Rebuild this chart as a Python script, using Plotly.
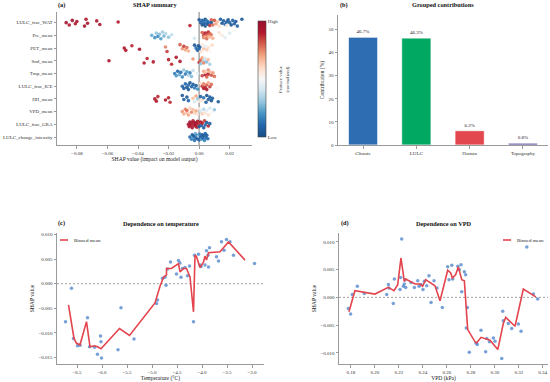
import plotly.graph_objects as go

FONT = "Liberation Serif"

# ---------------- Panel (a): SHAP summary ----------------
features = ["LULC_frac_WAT", "Pre_mean", "PET_mean", "Snd_mean", "Tmp_mean",
            "LULC_frac_ICE", "HII_mean", "VPD_mean", "LULC_frac_GRA", "LULC_change_intensity"]

wat_shap = [-0.087, -0.085, -0.083, -0.081, -0.080, -0.075, -0.074, -0.073, -0.067, -0.065, -0.053, -0.006,
            0.000, 0.001, 0.002, 0.002, 0.003, 0.003, 0.004, 0.004, 0.005, 0.005,
            0.006, 0.006, 0.007, 0.008, 0.008, 0.009, 0.010, 0.011, 0.012, 0.013,
            0.014, 0.015, 0.016, 0.017, 0.018, 0.018, 0.019, 0.020, 0.021, 0.022,
            0.023, 0.024, 0.025, 0.028]
wat_feat = [0.95, 0.92, 0.97, 0.90, 0.93, 0.96, 0.91, 0.94, 0.92, 0.95, 0.90, 0.88,
            0.05, 0.08, 0.03, 0.10, 0.06, 0.12, 0.04, 0.02, 0.07, 0.15,
            0.05, 0.09, 0.85, 0.80, 0.03, 0.78, 0.82, 0.70, 0.65, 0.60,
            0.06, 0.04, 0.08, 0.10, 0.05, 0.55, 0.03, 0.07, 0.04, 0.09,
            0.06, 0.05, 0.08, 0.04]

pre_shap = [-0.031, -0.029, -0.028, -0.027, -0.026, -0.025, -0.024, -0.023, -0.022, -0.020, -0.018, -0.003,
            0.002, 0.003, 0.003, 0.004, 0.004, 0.005, 0.005, 0.006, 0.006, 0.007, 0.007, 0.008, 0.009,
            0.013, 0.015, 0.017, 0.020]
pre_feat = [0.25, 0.20, 0.30, 0.18, 0.28, 0.22, 0.32, 0.26, 0.35, 0.30, 0.38, 0.40,
            0.80, 0.85, 0.75, 0.90, 0.70, 0.82, 0.78, 0.88, 0.72, 0.80, 0.65, 0.76, 0.68,
            0.58, 0.55, 0.45, 0.42]

pet_shap = [-0.049, -0.048, -0.044, -0.039, -0.022, -0.021, -0.0125, -0.011, -0.010, -0.009, -0.008, -0.007,
            -0.003, -0.002, -0.001, -0.0005, 0.000, 0.0005,
            0.001, 0.002, 0.003, 0.004, 0.005, 0.006, 0.007, 0.0085]
pet_feat = [0.92, 0.90, 0.88, 0.93, 0.75, 0.85, 0.80, 0.72, 0.85, 0.70, 0.78, 0.68,
            0.05, 0.10, 0.08, 0.03, 0.12, 0.06,
            0.60, 0.55, 0.65, 0.45, 0.62, 0.58, 0.50, 0.60]

snd_shap = [-0.059, -0.036, -0.034, -0.030, -0.020, -0.018, -0.015, -0.0125, -0.004,
            0.000, 0.001, 0.001, 0.002, 0.003, 0.003, 0.004, 0.005, 0.006, 0.007]
snd_feat = [0.92, 0.90, 0.88, 0.91, 0.89, 0.87, 0.90, 0.93, 0.72,
            0.85, 0.80, 0.30, 0.70, 0.35, 0.75, 0.40, 0.28, 0.65, 0.33]

tmp_shap = [-0.016, -0.015, -0.014, -0.013, -0.012, -0.011, -0.010, -0.009, -0.008, -0.007, -0.006, -0.005, -0.004, -0.001,
            0.002, 0.003, 0.004, 0.004, 0.005, 0.006, 0.006, 0.007, 0.008, 0.009, 0.010]
tmp_feat = [0.15, 0.20, 0.10, 0.25, 0.12, 0.18, 0.30, 0.14, 0.22, 0.35, 0.16, 0.28, 0.38, 0.45,
            0.85, 0.70, 0.90, 0.65, 0.80, 0.75, 0.88, 0.68, 0.82, 0.72, 0.78]

ice_shap = [-0.011, -0.010, -0.009, -0.008, -0.007, -0.007, -0.006, -0.005, -0.004, -0.003, -0.002, -0.001,
            0.001, 0.002, 0.003, 0.003, 0.004, 0.005, 0.005, 0.006, 0.007, 0.008,
            0.012]
ice_feat = [0.08, 0.05, 0.10, 0.04, 0.12, 0.06, 0.03, 0.09, 0.07, 0.15, 0.05, 0.20,
            0.60, 0.85, 0.90, 0.75, 0.88, 0.80, 0.92, 0.70, 0.85, 0.78,
            0.50]

hii_shap = [-0.029, -0.028, -0.027, -0.022, -0.020, -0.019, -0.011, -0.010, -0.008, -0.007,
            -0.004, -0.003, -0.002, -0.001, 0.000, 0.001, 0.002, 0.003,
            0.0045, 0.005, 0.006, 0.007, 0.008, 0.0087, 0.0125]
hii_feat = [0.92, 0.90, 0.88, 0.91, 0.89, 0.87, 0.05, 0.08, 0.04, 0.10,
            0.65, 0.40, 0.70, 0.30, 0.55, 0.08, 0.60, 0.12,
            0.05, 0.03, 0.08, 0.06, 0.04, 0.07, 0.05]

vpd_shap = [-0.011, -0.010, -0.009, -0.008, -0.008, -0.007, -0.006, -0.005, -0.004, -0.003, -0.002, -0.001,
            0.000, 0.001, 0.002, 0.003, 0.004, 0.005, 0.006, 0.007, 0.008,
            0.010]
vpd_feat = [0.72, 0.68, 0.75, 0.65, 0.78, 0.70, 0.62, 0.74, 0.66, 0.60, 0.70, 0.58,
            0.55, 0.40, 0.62, 0.35, 0.58, 0.45, 0.60, 0.42, 0.50,
            0.30]

gra_shap = [-0.007, -0.0065, -0.006, -0.0055, -0.005, -0.0045, -0.004, -0.0035, -0.003, -0.0025, -0.002, -0.0015, -0.001, -0.0006,
            0.000, 0.001, 0.0015, 0.002, 0.003, 0.0035, 0.004, 0.005, 0.006, 0.007]
gra_feat = [0.95, 0.92, 0.97, 0.90, 0.94, 0.96, 0.91, 0.93, 0.95, 0.92, 0.97, 0.90, 0.94, 0.88,
            0.05, 0.92, 0.08, 0.90, 0.04, 0.85, 0.10, 0.06, 0.88, 0.07]

chg_shap = [-0.006, -0.005, -0.0045, -0.004, -0.0035, -0.003, -0.0025, -0.002, -0.0015, -0.001, -0.0005, 0.000,
            0.0005, 0.001, 0.0015, 0.002, 0.0025, 0.003, 0.0035, 0.004, 0.0045, 0.005, 0.0057]
chg_feat = [0.10, 0.15, 0.08, 0.20, 0.05, 0.12, 0.25, 0.06, 0.18, 0.04, 0.30, 0.08,
            0.14, 0.03, 0.22, 0.07, 0.10, 0.05, 0.16, 0.09, 0.12, 0.06, 0.11]

shap_rows = [wat_shap, pre_shap, pet_shap, snd_shap, tmp_shap, ice_shap, hii_shap, vpd_shap, gra_shap, chg_shap]
feat_rows = [wat_feat, pre_feat, pet_feat, snd_feat, tmp_feat, ice_feat, hii_feat, vpd_feat, gra_feat, chg_feat]

# ---------------- Panel (b): grouped contributions ----------------
groups = ["Climate", "LULC", "Human", "Topography"]
group_pct = [46.7, 46.3, 6.2, 0.8]
group_colors = ["#2f6db3", "#00a862", "#e2474f", "#5b4fa3"]

# ---------------- Panel (c): dependence on temperature ----------------
temp_x = [-6.73, -6.61, -6.57, -6.49, -6.44, -6.29, -6.25, -6.15, -6.09, -6.03, -6.02, -6.01,
          -5.68, -5.62, -5.36, -4.91, -4.89, -4.79, -4.74, -4.72, -4.69, -4.63, -4.51, -4.47,
          -4.44, -4.42, -4.39, -4.34, -4.29, -4.25, -4.17, -4.15, -4.07, -4.04, -4.02, -3.94,
          -3.91, -3.88, -3.87, -3.85, -3.71, -3.67, -3.61, -3.56, -3.51, -3.44, -3.37, -2.95]
temp_y = [-0.0077, -0.0009, -0.0111, -0.0126, -0.0125, -0.0069, -0.0128, -0.0129, -0.0143, -0.0106, -0.0118, -0.0151,
          -0.0134, -0.0049, -0.0112, -0.0040, -0.0033, 0.0011, 0.0013, -0.0003, 0.0030, 0.0044, 0.0020, 0.0047,
          0.0042, 0.0013, 0.0031, 0.0033, 0.0016, 0.0036, -0.0077, 0.0058, 0.0060, 0.0038, 0.0035, 0.0038,
          0.0067, 0.0058, 0.0034, 0.0073, 0.0055, 0.0046, 0.0085, 0.0068, 0.0090, 0.0085, 0.0058, 0.0041]
temp_bin_x = [-6.67, -6.56, -6.51, -6.44, -6.31, -6.24, -6.15, -6.09, -6.02, -5.65, -5.45, -4.94,
              -4.84, -4.81, -4.77, -4.71, -4.71, -4.61, -4.52, -4.47, -4.44, -4.37, -4.31, -4.24,
              -4.17, -4.14, -4.11, -4.04, -3.97, -3.94, -3.91, -3.87, -3.64, -3.47, -3.14]
temp_bin_y = [-0.0043, -0.0111, -0.0121, -0.0124, -0.0077, -0.0128, -0.0126, -0.0128, -0.0132, -0.0091, -0.0105, -0.0039,
              -0.0005, 0.0004, 0.0013, 0.0018, 0.0031, 0.0031, 0.0038, 0.0041, 0.0024, 0.0031, 0.0031, 0.0014,
              -0.0057, 0.0058, 0.0055, 0.0033, 0.0044, 0.0056, 0.0048, 0.0063, 0.0065, 0.0085, 0.0048]

# ---------------- Panel (d): dependence on VPD ----------------
vpd_x = [0.1778, 0.1797, 0.1811, 0.1853, 0.1911, 0.2098, 0.2112, 0.2117, 0.2153, 0.2162, 0.2209, 0.2215,
         0.2223, 0.2237, 0.2245, 0.2251, 0.2257, 0.2301, 0.2329, 0.2357, 0.2368, 0.2384, 0.2401, 0.2412,
         0.2432, 0.2451, 0.2468, 0.2493, 0.2518, 0.2562, 0.2607, 0.2618, 0.2641, 0.2649, 0.2691, 0.2704,
         0.2718, 0.2724, 0.2746, 0.2757, 0.2771, 0.2762, 0.2787, 0.2843, 0.2854, 0.2885, 0.2924, 0.2933,
         0.2955, 0.2988, 0.3002, 0.3058, 0.3066, 0.3071, 0.3113, 0.3141, 0.3197, 0.3219, 0.3267, 0.3322, 0.3358]
vpd_y = [-0.0020, -0.0030, 0.0005, 0.0020, 0.0007, 0.0005, 0.0023, 0.0017, -0.0011, 0.0033, 0.0014, 0.0036,
         0.0105, 0.0020, 0.0024, 0.0032, 0.0018, 0.0027, 0.0018, 0.0030, 0.0020, 0.0023, 0.0014, 0.0029,
         0.0021, 0.0039, -0.0009, 0.0030, 0.0017, -0.0018, 0.0055, 0.0032, 0.0058, 0.0033, 0.0056, 0.0050,
         0.0059, 0.0010, 0.0046, 0.0041, -0.0018, -0.0055, -0.0099, -0.0082, -0.0085, -0.0059, -0.0098, -0.0074,
         -0.0080, -0.0073, -0.0079, -0.0110, -0.0025, -0.0042, -0.0047, -0.0056, -0.0048, -0.0061, 0.0091, 0.0006, -0.0003]
vpd_bin_x = [0.1783, 0.1833, 0.2000, 0.2111, 0.2159, 0.2190, 0.2217, 0.2245, 0.2257, 0.2292, 0.2334, 0.2376,
             0.2398, 0.2423, 0.2501, 0.2543, 0.2607, 0.2632, 0.2646, 0.2674, 0.2696, 0.2724, 0.2746, 0.2774,
             0.2835, 0.2849, 0.2885, 0.2960, 0.3025, 0.3071, 0.3091, 0.3169, 0.3238, 0.3342]
vpd_bin_y = [-0.0026, 0.0012, 0.0006, 0.0018, 0.0012, 0.0023, 0.0071, 0.0029, 0.0033, 0.0029, 0.0024, 0.0024,
             0.0020, 0.0032, 0.0021, -0.0006, 0.0049, 0.0044, 0.0035, 0.0041, 0.0055, 0.0032, 0.0030, -0.0058,
             -0.0080, -0.0082, -0.0072, -0.0077, -0.0094, -0.0047, -0.0036, -0.0052, 0.0015, 0.0001]

# ---------------- build figure ----------------
W, H = 550, 382
def px(x):
    return x / W
def py(y):
    return (H - y) / H

rdbu = [[0.0, "#1a4e86"], [0.1, "#2166ac"], [0.2, "#4393c3"], [0.3, "#92c5de"], [0.4, "#d1e5f0"],
        [0.5, "#f7f7f7"], [0.6, "#fddbc7"], [0.7, "#f4a582"], [0.8, "#d6604d"], [0.9, "#b2182b"], [1.0, "#9a1030"]]

jitter = [0.0, 0.18, -0.18, 0.09, -0.09, 0.27, -0.27, 0.05, -0.14, 0.14, -0.05, 0.23, -0.23]
xs, ys, cs = [], [], []
for r, (sv, fv) in enumerate(zip(shap_rows, feat_rows)):
    for i, (s, f) in enumerate(zip(sv, fv)):
        xs.append(s)
        ys.append(r + jitter[i % len(jitter)])
        cs.append(f)

fig = go.Figure()

fig.add_trace(go.Scatter(
    x=xs, y=ys, mode="markers", xaxis="x", yaxis="y", showlegend=False,
    marker=dict(size=3.6, color=cs, colorscale=rdbu, cmin=0, cmax=1, opacity=0.9,
                line=dict(width=0),
                colorbar=dict(x=px(258), xanchor="left", y=py(79), yanchor="middle",
                              thickness=8, thicknessmode="pixels", len=116, lenmode="pixels",
                              outlinewidth=0.6, outlinecolor="#444", xpad=0, ypad=0,
                              tickvals=[1, 0], ticktext=["High", "Low"], ticks="",
                              tickfont=dict(size=5, family=FONT, color="#333"))),
))

fig.add_trace(go.Bar(
    x=groups, y=group_pct, xaxis="x2", yaxis="y2", width=0.55, showlegend=False,
    marker=dict(color=group_colors, line=dict(color="white", width=0.8)),
    text=[f"{v:.1f}%" for v in group_pct], textposition="outside", cliponaxis=False,
    textfont=dict(size=5, family=FONT, color="#222"),
))

pt_color = "rgba(74,128,200,0.75)"
line_color = "#e3444d"

fig.add_trace(go.Scatter(x=temp_x, y=temp_y, mode="markers", xaxis="x3", yaxis="y3", showlegend=False,
                         marker=dict(size=3.5, color=pt_color)))
fig.add_trace(go.Scatter(x=temp_bin_x, y=temp_bin_y, mode="lines", xaxis="x3", yaxis="y3", showlegend=False,
                         name="Binned mean", line=dict(color=line_color, width=1.6)))
fig.add_trace(go.Scatter(x=vpd_x, y=vpd_y, mode="markers", xaxis="x4", yaxis="y4", showlegend=False,
                         marker=dict(size=3.5, color=pt_color)))
fig.add_trace(go.Scatter(x=vpd_bin_x, y=vpd_bin_y, mode="lines", xaxis="x4", yaxis="y4", showlegend=False,
                         name="Binned mean", line=dict(color=line_color, width=1.6)))

tickfont = dict(size=5, family=FONT, color="#333")
titlefont = dict(size=5.6, family=FONT, color="#222")
axis_common = dict(showline=True, linecolor="#9a9a9a", linewidth=1, ticks="outside", ticklen=2.5,
                   tickcolor="#9a9a9a", tickwidth=0.8, showgrid=False, zeroline=False,
                   tickfont=tickfont, automargin=False)

fig.update_layout(
    width=W, height=H, margin=dict(l=0, r=0, t=0, b=0, autoexpand=False),
    paper_bgcolor="white", plot_bgcolor="white",
    font=dict(family=FONT),
    xaxis=dict(domain=[px(57), px(252)], anchor="y", range=[-0.093, 0.0346],
               tickvals=[-0.08, -0.06, -0.04, -0.02, 0.0, 0.02], tickformat=".2f",
               title=dict(text="SHAP value (impact on model output)", font=titlefont, standoff=2),
               **axis_common),
    yaxis=dict(domain=[py(145), py(12)], anchor="x", range=[9.63, -0.84],
               tickvals=list(range(len(features))), ticktext=features, **axis_common),
    xaxis2=dict(domain=[px(338), px(548)], anchor="y2", range=[-0.47, 3.47], **axis_common),
    yaxis2=dict(domain=[py(145), py(15)], anchor="x2", range=[0, 56.3], tickvals=[0, 10, 20, 30, 40, 50],
                title=dict(text="Contribution (%)", font=titlefont, standoff=3), **axis_common),
    xaxis3=dict(domain=[px(57), px(264)], anchor="y3", range=[-6.9, -2.76],
                tickvals=[-6.5, -6.0, -5.5, -5.0, -4.5, -4.0, -3.5, -3.0], tickformat=".1f",
                title=dict(text="Temperature (°C)", font=titlefont, standoff=2), **axis_common),
    yaxis3=dict(domain=[py(364), py(233)], anchor="x3", range=[-0.0163, 0.0103],
                tickvals=[-0.015, -0.010, -0.005, 0.0, 0.005, 0.010], tickformat=".3f",
                title=dict(text="SHAP value", font=titlefont, standoff=3), **axis_common),
    xaxis4=dict(domain=[px(339), px(548)], anchor="y4", range=[0.170, 0.3444],
                tickvals=[0.18, 0.20, 0.22, 0.24, 0.26, 0.28, 0.30, 0.32, 0.34], tickformat=".2f",
                title=dict(text="VPD (kPa)", font=titlefont, standoff=2), **axis_common),
    yaxis4=dict(domain=[py(364), py(233)], anchor="x4", range=[-0.012, 0.0116],
                tickvals=[-0.010, -0.005, 0.0, 0.005, 0.010], tickformat=".3f",
                title=dict(text="SHAP value", font=titlefont, standoff=3), **axis_common),
)

# reference lines
fig.add_shape(type="line", xref="x", yref="y domain", x0=0, x1=0, y0=0, y1=1,
              line=dict(color="#9a9a9a", width=1.3), layer="below")
fig.add_shape(type="line", xref="x3 domain", yref="y3", x0=0, x1=1, y0=0, y1=0,
              line=dict(color="#8a8a8a", width=0.8, dash="2px,2px"), layer="below")
fig.add_shape(type="line", xref="x4 domain", yref="y4", x0=0, x1=1, y0=0, y1=0,
              line=dict(color="#8a8a8a", width=0.8, dash="2px,2px"), layer="below")

# legends (Binned mean)
legfont = dict(size=5, family=FONT, color="#222")
for x0, x1, xt in [(60, 68, 72), (503, 511, 515)]:
    fig.add_shape(type="line", xref="paper", yref="paper", x0=px(x0), x1=px(x1), y0=py(240), y1=py(240),
                  line=dict(color=line_color, width=1.6))
    fig.add_annotation(text="Binned mean", xref="paper", yref="paper", x=px(xt), y=py(240),
                       xanchor="left", yanchor="middle", showarrow=False, font=legfont)

# panel titles
ptfont = dict(size=6.3, family=FONT, color="#111")
for lab, lx, title, cx, ty in [("(a)", 56, "SHAP summary", 154.5, 5),
                                ("(b)", 338, "Grouped contributions", 443, 5),
                                ("(c)", 56, "Dependence on temperature", 160.5, 223),
                                ("(d)", 339, "Dependence on VPD", 443.5, 223)]:
    fig.add_annotation(text=f"<b>{lab}</b>", xref="paper", yref="paper", x=px(lx), y=py(ty),
                       xanchor="left", yanchor="middle", showarrow=False, font=ptfont)
    fig.add_annotation(text=f"<b>{title}</b>", xref="paper", yref="paper", x=px(cx), y=py(ty),
                       xanchor="center", yanchor="middle", showarrow=False, font=ptfont)

# colorbar label
fig.add_annotation(text="Feature value<br>(normalized)", xref="paper", yref="paper", x=px(284), y=py(79),
                   xanchor="center", yanchor="middle", showarrow=False, textangle=-90,
                   font=dict(size=5, family=FONT, color="#333"))

fig.write_html("out.html", config={"displayModeBar": False},
               post_script="document.body.style.margin='0px';")
